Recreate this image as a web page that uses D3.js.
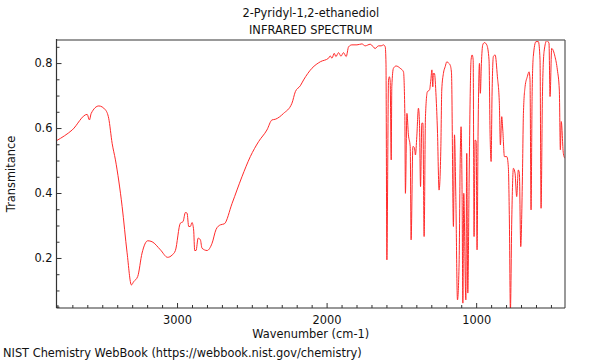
<!DOCTYPE html>
<html><head><meta charset="utf-8">
<script src="https://cdn.jsdelivr.net/npm/d3@7"></script>
<style>body{margin:0;background:#fff} text{font-family:"DejaVu Sans",sans-serif;fill:#111}</style>
</head><body><svg id="c" width="600" height="360"></svg>
<script>
const wavenumber = [3806,3701,3601,3586,3574,3523,3479,3457,3434,3412,3367,3334,3305,3290,3263,3234,3196,3167,3111,3063,3033,3011,2978,2960,2944,2933,2922,2911,2900,2889,2882,2873,2859,2844,2833,2799,2766,2739,2710,2684,2632,2566,2510,2455,2399,2365,2343,2288,2232,2209,2176,2154,2098,2042,1987,1976,1964,1949,1938,1920,1904,1887,1869,1853,1831,1797,1764,1742,1708,1675,1653,1635,1620,1608,1603,1597,1586,1580,1575,1568,1564,1553,1535,1508,1486,1477,1473,1463,1453,1441,1435,1423,1413,1406,1397,1386,1379,1372,1363,1356,1348,1339,1326,1312,1303,1296,1290,1286,1279,1268,1259,1248,1236,1230,1219,1207,1196,1185,1174,1165,1152,1145,1136,1125,1114,1107,1101,1094,1089,1083,1069,1063,1056,1047,1040,1034,1027,1020,1014,1007,1000,994,987,978,972,965,956,945,929,914,907,900,894,885,873,858,845,838,829,822,811,795,785,778,771,762,751,740,729,718,711,702,691,684,673,658,646,640,633,626,618,600,584,573,566,557,546,528,513,506,495,473,457,444,437,431,417,407];
const transmittance = [0.561,0.594,0.642,0.625,0.645,0.668,0.656,0.630,0.553,0.502,0.358,0.216,0.117,0.127,0.143,0.215,0.253,0.250,0.225,0.202,0.209,0.223,0.307,0.312,0.340,0.338,0.297,0.297,0.309,0.286,0.223,0.223,0.261,0.256,0.230,0.223,0.245,0.288,0.302,0.305,0.368,0.450,0.512,0.558,0.594,0.625,0.627,0.645,0.676,0.712,0.730,0.748,0.784,0.804,0.815,0.822,0.815,0.830,0.820,0.832,0.821,0.832,0.820,0.850,0.856,0.856,0.859,0.853,0.858,0.845,0.853,0.853,0.856,0.850,0.800,0.194,0.748,0.758,0.745,0.502,0.727,0.784,0.791,0.784,0.773,0.645,0.399,0.645,0.579,0.543,0.256,0.543,0.540,0.517,0.573,0.661,0.615,0.420,0.615,0.615,0.266,0.635,0.712,0.717,0.748,0.779,0.727,0.768,0.768,0.697,0.594,0.409,0.543,0.717,0.768,0.789,0.804,0.800,0.794,0.770,0.297,0.579,0.389,0.071,0.184,0.491,0.604,0.389,0.061,0.399,0.071,0.522,0.092,0.440,0.697,0.810,0.825,0.810,0.266,0.563,0.560,0.225,0.594,0.799,0.707,0.799,0.856,0.863,0.856,0.810,0.584,0.497,0.697,0.820,0.825,0.758,0.676,0.548,0.635,0.594,0.512,0.512,0.481,0.320,0.040,0.317,0.476,0.461,0.389,0.471,0.460,0.235,0.440,0.645,0.727,0.758,0.773,0.748,0.348,0.697,0.820,0.866,0.866,0.810,0.353,0.697,0.835,0.869,0.861,0.697,0.845,0.820,0.779,0.717,0.533,0.620,0.522,0.507];
const xTickValues = [3000,2000,1000];
const yTickValues = [0.2,0.4,0.6,0.8];
const titleLines = ["2-Pyridyl-1,2-ethanediol","INFRARED SPECTRUM"];
const xLabel = "Wavenumber (cm-1)";
const yLabel = "Transmitance";
const credit = "NIST Chemistry WebBook (https://webbook.nist.gov/chemistry)";

const L=56.5, R=565, T=40, B=308;
const svg = d3.select("#c");
const x = d3.scaleLinear().domain([3806,406]).range([L,R]);
const y = d3.scaleLinear().domain([0.046,0.871]).range([B,T]);

svg.append("clipPath").attr("id","clip").append("rect").attr("x",L).attr("y",T).attr("width",R-L).attr("height",B-T);

const data = wavenumber.map((w,i)=>({w, t: transmittance[i]}));
const line = d3.line().x(d=>x(d.w)).y(d=>y(d.t)).curve(d3.curveMonotoneX);
svg.append("path").datum(data).attr("d",line).attr("fill","none")
  .attr("stroke","#ff2a2a").attr("stroke-width",1).attr("clip-path","url(#clip)");

const xMinor = d3.range(3800,406,-100).filter(v=>!xTickValues.includes(v));
const yMinor = d3.range(0.05,0.871,0.05).map(v=>+v.toFixed(2)).filter(v=>!yTickValues.includes(v));

const gx = svg.append("g").attr("transform",`translate(0,${B})`);
gx.call(d3.axisBottom(x).tickValues(xTickValues).tickSize(-5).tickPadding(8).tickFormat(d3.format("d")));
const gxm = svg.append("g").attr("transform",`translate(0,${B})`);
gxm.call(d3.axisBottom(x).tickValues(xMinor).tickSize(-3).tickFormat(""));
const gy = svg.append("g").attr("transform",`translate(${L},0)`);
gy.call(d3.axisLeft(y).tickValues(yTickValues).tickSize(-5).tickPadding(4).tickFormat(d3.format(".1f")));
const gym = svg.append("g").attr("transform",`translate(${L},0)`);
gym.call(d3.axisLeft(y).tickValues(yMinor).tickSize(-3).tickFormat(""));
[gx,gxm,gy,gym].forEach(g=>{
  g.select(".domain").remove();
  g.selectAll(".tick line").attr("stroke","#333");
  g.selectAll(".tick text").style("font-family","DejaVu Sans").style("font-size","11.4px").attr("fill","#111");
});

svg.append("line").attr("x1",L).attr("x2",R).attr("y1",T).attr("y2",T).attr("stroke","#999").attr("stroke-width",2);
svg.append("line").attr("x1",R).attr("x2",R).attr("y1",T).attr("y2",B).attr("stroke","#555").attr("stroke-width",1.2);
svg.append("line").attr("x1",L).attr("x2",L).attr("y1",T-1).attr("y2",B).attr("stroke","#333").attr("stroke-width",1.2);
svg.append("line").attr("x1",L).attr("x2",R).attr("y1",B).attr("y2",B).attr("stroke","#333").attr("stroke-width",1.2);

const cx=(L+R)/2;
svg.append("text").attr("x",cx).attr("y",17).attr("text-anchor","middle").style("font-size","11.4px").text(titleLines[0]);
svg.append("text").attr("x",cx).attr("y",34).attr("text-anchor","middle").style("font-size","11.4px").text(titleLines[1]);
svg.append("text").attr("x",cx).attr("y",338).attr("text-anchor","middle").style("font-size","11.4px").text(xLabel);
svg.append("text").attr("transform",`translate(15,${(T+B)/2}) rotate(-90)`).attr("text-anchor","middle").style("font-size","11.4px").text(yLabel);
svg.append("text").attr("x",3).attr("y",357).style("font-size","11.4px").text(credit);
</script></body></html>
